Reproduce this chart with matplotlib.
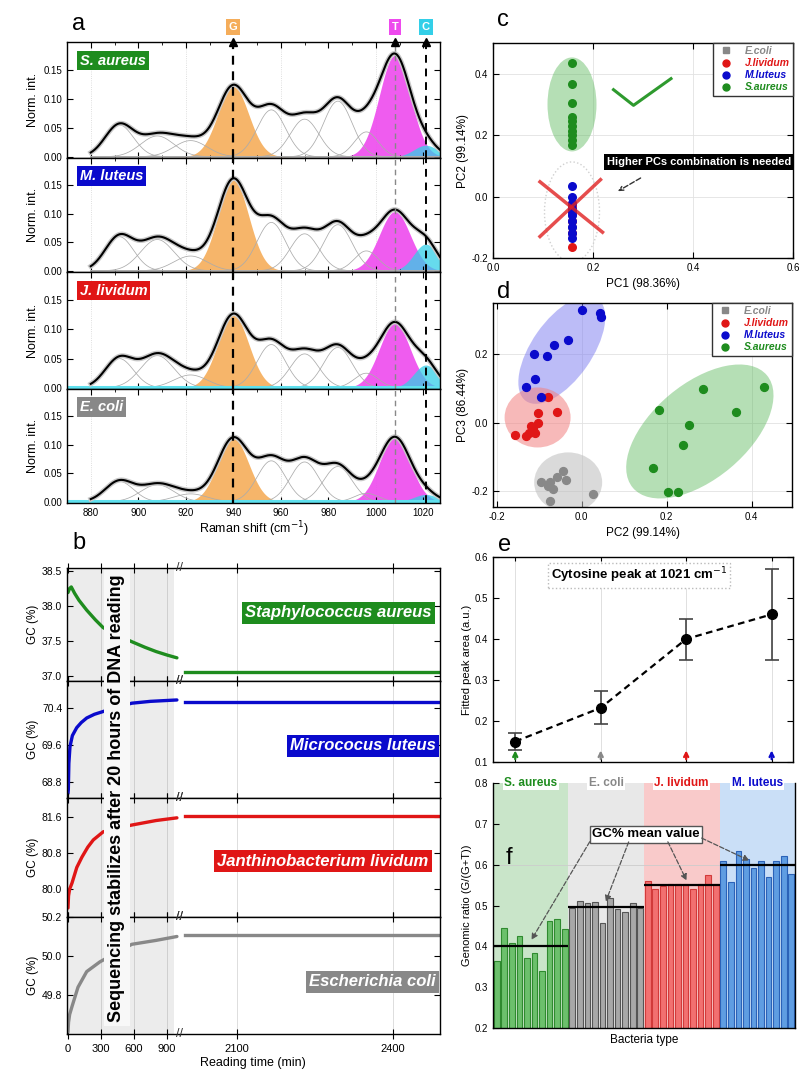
import numpy as np
import matplotlib.pyplot as plt
from matplotlib.patches import Ellipse
from matplotlib.lines import Line2D
from matplotlib.transforms import ScaledTranslation

plt.rcParams['font.family'] = ['Liberation Sans', 'DejaVu Sans']
plt.rcParams['font.size'] = 7.5
plt.rcParams['axes.linewidth'] = 1.0

W, H = 802, 1077
fig = plt.figure(figsize=(W / 100, H / 100), dpi=100)


def rect(l, t, r, b):
    # pixel box -> figure fraction
    return [l / W, 1 - b / H, (r - l) / W, (b - t) / H]


# colours per species
col_sa, col_ml, col_jl, col_ec = '#1e8c1e', '#0a0acc', '#e01616', '#888888'

# ---------------- a : gaussian fits of the raman spectra ----------------
spec_names = ['S. aureus', 'M. luteus', 'J. lividum', 'E. coli']
spec_colors = [col_sa, col_ml, col_jl, col_ec]
comp_centre = [892, 908, 922, 940, 956, 970, 984, 996, 1008, 1021]
comp_sigma = [6, 7, 7, 6.5, 6, 6, 6, 5, 6.5, 5]
h_sa = [0.055, 0.036, 0.028, 0.121, 0.081, 0.065, 0.096, 0.043, 0.175, 0.020]
h_ml = [0.060, 0.055, 0.026, 0.159, 0.085, 0.065, 0.081, 0.035, 0.104, 0.047]
h_jl = [0.050, 0.055, 0.022, 0.124, 0.074, 0.058, 0.069, 0.025, 0.110, 0.039]
h_ec = [0.036, 0.030, 0.014, 0.111, 0.072, 0.070, 0.062, 0.015, 0.113, 0.013]
cyan_baseline = [False, False, True, True]
base_names = ['G', 'T', 'C']
base_peaks = [940, 1008, 1021]
base_idx = [3, 8, 9]
base_colors = ['#f5ad5a', '#ee4aee', '#33cfe8']
base_alpha = [0.9, 0.9, 0.75]

a_rows = [(42, 158), (158, 272), (272, 389), (389, 503)]
wn = np.linspace(880, 1027, 500)
for i, heights in enumerate([h_sa, h_ml, h_jl, h_ec]):
    ax = fig.add_axes(rect(67, a_rows[i][0], 440, a_rows[i][1]))
    comps = [h * np.exp(-(wn - c) ** 2 / (2 * s ** 2))
             for h, c, s in zip(heights, comp_centre, comp_sigma)]
    total = np.sum(comps, axis=0)
    for k, cv in enumerate(comps):
        if k not in base_idx:
            ax.plot(wn, cv, color='#ababab', lw=0.55)
    for k, col, al in zip(base_idx, base_colors, base_alpha):
        ax.fill_between(wn, 0, comps[k], color=col, alpha=al, lw=0)
    if cyan_baseline[i]:
        ax.axhline(0.001, color='#5fe0ee', lw=2.2)
    ax.plot(wn, total, color='#c8c8c8', lw=3.5)
    ax.plot(wn, total, color='k', lw=1.5)
    ax.axvline(base_peaks[0], color='k', ls=(0, (4, 3)), lw=1.6)
    ax.axvline(base_peaks[1], color='#888888', ls=(0, (4, 3)), lw=1.0)
    ax.axvline(base_peaks[2], color='k', ls=(0, (4, 3)), lw=1.4)
    for g in [880, 920, 960, 1000]:
        ax.axvline(g, color='#d4d4d4', lw=0.6, ls=':', zorder=0)
    ax.set_xlim(870, 1027)
    ax.set_ylim(-0.002, 0.198)
    ax.set_xticks(np.arange(880, 1021, 20))
    ax.set_xticks(np.arange(870, 1027, 10), minor=True)
    ax.set_yticks([0.0, 0.05, 0.10, 0.15])
    ax.set_yticklabels(['0.00', '0.05', '0.10', '0.15'])
    ax.tick_params(direction='in', top=True, right=True, length=4, labelsize=7)
    ax.tick_params(which='minor', direction='in', top=True, length=2)
    ax.set_ylabel('Norm. int.', fontsize=9, labelpad=3)
    ax.text(0.035, 0.84, spec_names[i], transform=ax.transAxes, color='white',
            fontsize=10.5, weight='bold', style='italic', va='center',
            bbox=dict(facecolor=spec_colors[i], edgecolor='none', pad=2))
    if i == 0:
        ax.plot(base_peaks, [0.198] * 3, ls='none', marker='^', color='k',
                ms=6, clip_on=False)
        for nm, pk, col in zip(base_names, base_peaks, base_colors):
            ax.text(pk, 1.13, nm, transform=ax.get_xaxis_transform(), ha='center',
                    va='center', color='white', fontsize=8, weight='bold',
                    bbox=dict(facecolor=col, edgecolor='none', pad=2))
    if i < 3:
        ax.tick_params(labelbottom=False)
    else:
        ax.set_xlabel('Raman shift (cm$^{-1}$)', fontsize=9, labelpad=1)

# ---------------- b : GC content vs reading time ----------------
t_sa = [0, 15, 30, 60, 100, 170, 250, 320, 450, 580, 700, 800, 900, 990]
gc_sa = [38.19, 38.25, 38.27, 38.18, 38.08, 37.94, 37.80, 37.69, 37.58, 37.49,
         37.41, 37.35, 37.30, 37.26]
t_ml = [0, 3, 8, 18, 40, 79, 120, 170, 240, 306, 450, 580, 750, 990]
gc_ml = [68.55, 68.63, 69.20, 69.56, 69.80, 69.97, 70.08, 70.18, 70.26, 70.31,
         70.42, 70.50, 70.54, 70.57]
t_jl = [0, 5, 15, 36, 80, 127, 180, 230, 320, 450, 580, 800, 990]
gc_jl = [79.58, 79.85, 80.00, 80.13, 80.48, 80.71, 80.93, 81.09, 81.27, 81.35,
         81.42, 81.52, 81.58]
t_ec = [0, 5, 15, 36, 91, 170, 290, 450, 580, 800, 990]
gc_ec = [49.61, 49.66, 49.70, 49.74, 49.84, 49.92, 49.97, 50.02, 50.06, 50.08, 50.10]
t_late = [2000, 2490]
gc_late = [37.06, 70.53, 81.62, 50.11]

b_names = ['Staphylococcus aureus', 'Micrococus luteus',
           'Janthinobacterium lividum', 'Escherichia coli']
b_label_x = [245, 290, 217, 309]
b_label_y = [613, 746, 861, 982]
b_ylims = [(36.93, 38.54), (68.45, 70.98), (79.38, 82.02), (49.60, 50.20)]
b_yticks = [[37.0, 37.5, 38.0, 38.5], [68.8, 69.6, 70.4],
            [80.0, 80.8, 81.6], [49.8, 50.0, 50.2]]
b_rows = [(568, 681), (681, 798), (798, 917), (917, 1034)]
b_t = [t_sa, t_ml, t_jl, t_ec]
b_gc = [gc_sa, gc_ml, gc_jl, gc_ec]
brk = 179

for i in range(4):
    top, bot = b_rows[i]
    axl = fig.add_axes(rect(67, top, brk, bot))
    axr = fig.add_axes(rect(brk, top, 440, bot))
    axl.axvspan(-9, 960, color='#ececec', lw=0, zorder=0)
    for g in [300, 600, 900]:
        axl.axvline(g, color='#cfcfcf', lw=0.7, zorder=0)
    for g in [2100, 2400]:
        axr.axvline(g, color='#dddddd', lw=0.7, zorder=0)
    axl.plot(b_t[i], b_gc[i], color=spec_colors[i], lw=2.4,
             solid_capstyle='round')
    axr.plot(t_late, [gc_late[i]] * 2, color=spec_colors[i], lw=2.4)
    axl.set_xlim(-9, 1009)
    axr.set_xlim(1988, 2490)
    for ax in (axl, axr):
        ax.set_ylim(*b_ylims[i])
    axl.spines['right'].set_visible(False)
    axr.spines['left'].set_visible(False)
    axl.set_xticks([0, 300, 600, 900])
    axr.set_xticks([2100, 2400])
    axl.set_yticks(b_yticks[i])
    axl.set_yticklabels(['%.1f' % v for v in b_yticks[i]])
    axr.set_yticks(b_yticks[i])
    axr.tick_params(axis='y', left=False, right=True, labelleft=False,
                    direction='in', length=4)
    axl.tick_params(axis='y', direction='in', length=4, labelsize=7.5)
    for ax in (axl, axr):
        ax.tick_params(axis='x', direction='inout', top=True, length=7,
                       labelsize=8)
        if i < 3:
            ax.tick_params(axis='x', labelbottom=False)
    axl.set_ylabel('GC (%)', fontsize=8.5, labelpad=2)
    col = spec_colors[i]
    axr.text((b_label_x[i] - brk) / (440 - brk), (bot - b_label_y[i]) / (bot - top),
             b_names[i], transform=axr.transAxes, color='white', fontsize=12,
             weight='bold', style='italic', va='center', ha='left', clip_on=True,
             bbox=dict(facecolor=col, edgecolor='none', pad=2.5))
    for yy in (top, bot):
        fig.text(brk / W, 1 - yy / H, '//', fontsize=9, ha='center', va='center',
                 color='#333333')
    if i == 3:
        fig.text(253 / W, 1 - 1066 / H, 'Reading time (min)', fontsize=9, ha='center')

fig.text(117 / W, 1 - 798 / H, 'Sequencing stabilizes after 20 hours of DNA reading',
         rotation=90, ha='center', va='center', fontsize=13, weight='bold',
         bbox=dict(facecolor='#f8f8f8', edgecolor='none', pad=3))

# ---------------- c / d : PCA scatter ----------------
pca_labels = ['E.coli', 'J.lividum', 'M.luteus', 'S.aureus']
pca_colors = [col_ec, col_jl, col_ml, col_sa]
pca_markers = ['s', 'o', 'o', 'o']

c_pc1 = 0.158
c_ec_pc2 = [-0.10, -0.06]
c_jl_pc2 = [-0.165, -0.12, -0.08, -0.03]
c_ml_pc2 = [0.035, 0.0, -0.02, -0.04, -0.06, -0.08, -0.10, -0.12, -0.135, -0.05]
c_sa_pc2 = [0.435, 0.365, 0.306, 0.26, 0.245, 0.23, 0.215, 0.20, 0.185, 0.168]

d_ec = ([-0.097, -0.075, -0.059, -0.045, -0.036, -0.068, -0.075, 0.027, -0.080],
        [-0.175, -0.175, -0.158, -0.143, -0.167, -0.193, -0.228, -0.210, -0.185])
d_jl = ([-0.079, -0.059, -0.102, -0.102, -0.115, -0.124, -0.131, -0.158, -0.109, -0.120],
        [0.076, 0.032, 0.029, 0.0, -0.015, -0.030, -0.040, -0.035, -0.029, -0.010])
d_ml = ([0.0, 0.043, 0.045, -0.113, -0.081, -0.066, -0.032, -0.109, -0.131, -0.097],
        [0.330, 0.320, 0.310, 0.200, 0.196, 0.228, 0.243, 0.128, 0.105, 0.076])
d_sa = ([0.181, 0.362, 0.285, 0.428, 0.253, 0.238, 0.167, 0.204, 0.226],
        [0.038, 0.032, 0.099, 0.105, -0.006, -0.067, -0.132, -0.204, -0.204])


def cloud(ax, centre, w_in, h_in, ang, fc, alpha, **kw):
    tr = fig.dpi_scale_trans + ScaledTranslation(centre[0], centre[1], ax.transData)
    e = Ellipse((0, 0), w_in, h_in, angle=ang, transform=tr, facecolor=fc,
                alpha=alpha, zorder=1, **kw)
    ax.add_patch(e)


def pca_legend(ax):
    handles = [Line2D([], [], ls='none', marker=m, color=c, ms=5)
               for c, m in zip(pca_colors, pca_markers)]
    leg = ax.legend(handles, pca_labels, loc='upper right', fontsize=7.5,
                    fancybox=False, edgecolor='#333333', framealpha=1,
                    borderpad=0.3, labelspacing=0.2, handletextpad=0.8,
                    borderaxespad=0.0)
    for txt, c in zip(leg.get_texts(), pca_colors):
        txt.set_color(c)
        txt.set_style('italic')
        txt.set_weight('bold')


axc = fig.add_axes(rect(493, 43, 793, 258))
axc.grid(color='#e2e2e2', lw=0.6)
axc.set_axisbelow(True)
cloud(axc, (c_pc1, 0.30), 0.49, 0.94, 0, '#5cb85c', 0.45)
cloud(axc, (c_pc1, -0.05), 0.55, 1.0, 0, 'none', 1, edgecolor='#d0d0d0', ls=':')
for vals, col in zip([c_ec_pc2, c_jl_pc2, c_ml_pc2, c_sa_pc2], pca_colors):
    axc.scatter([c_pc1] * len(vals), vals, s=30, color=col, zorder=3)
axc.plot([0.094, 0.219], [0.048, -0.116], color='#e02020', lw=2.5, alpha=0.8, zorder=4)
axc.plot([0.215, 0.094], [0.055, -0.130], color='#e02020', lw=2.5, alpha=0.8, zorder=4)
axc.plot([0.241, 0.281, 0.356], [0.348, 0.297, 0.384], color='#2e9a2e', lw=2.2)
axc.text(0.412, 0.113, 'Higher PCs combination is needed', color='white',
         fontsize=8, weight='bold', ha='center', va='center', zorder=5,
         bbox=dict(facecolor='black', edgecolor='none', pad=2))
axc.annotate('', xy=(0.245, 0.013), xytext=(0.30, 0.065),
             arrowprops=dict(arrowstyle='->', color='#333333', ls='--', lw=1))
axc.set_xlim(0, 0.6)
axc.set_ylim(-0.2, 0.5)
axc.set_xticks([0.0, 0.2, 0.4, 0.6])
axc.set_yticks([-0.2, 0.0, 0.2, 0.4])
axc.set_xticklabels(['0.0', '0.2', '0.4', '0.6'])
axc.set_yticklabels(['-0.2', '0.0', '0.2', '0.4'])
axc.tick_params(direction='in', top=True, right=True, length=4, labelsize=7)
axc.set_xlabel('PC1 (98.36%)', fontsize=8.5)
axc.set_ylabel('PC2 (99.14%)', fontsize=8.5, labelpad=2)
pca_legend(axc)

axd = fig.add_axes(rect(493, 303, 792, 507))
axd.grid(color='#e2e2e2', lw=0.6)
axd.set_axisbelow(True)
cloud(axd, (-0.047, 0.213), 1.25, 0.60, 55, '#7b7bf0', 0.5)
cloud(axd, (-0.104, 0.015), 0.66, 0.60, 0, '#f28080', 0.55)
cloud(axd, (-0.032, -0.175), 0.68, 0.60, 0, '#bdbdbd', 0.55)
cloud(axd, (0.278, -0.026), 1.75, 0.95, 40, '#5cb85c', 0.45)
for (xs, ys), col in zip([d_ec, d_jl, d_ml, d_sa], pca_colors):
    axd.scatter(xs, ys, s=32, color=col, zorder=3)
axd.set_xlim(-0.209, 0.495)
axd.set_ylim(-0.247, 0.35)
axd.set_xticks([-0.2, 0.0, 0.2, 0.4])
axd.set_yticks([-0.2, 0.0, 0.2])
axd.set_xticklabels(['-0.2', '0.0', '0.2', '0.4'])
axd.set_yticklabels(['-0.2', '0.0', '0.2'])
axd.tick_params(direction='in', top=True, right=True, length=4, labelsize=7)
axd.set_xlabel('PC2 (99.14%)', fontsize=8.5)
axd.set_ylabel('PC3 (86.44%)', fontsize=8.5, labelpad=2)
pca_legend(axd)

# ---------------- e : cytosine peak area ----------------
e_order = ['S. aureus', 'E. coli', 'J. lividum', 'M. luteus']
e_colors = [col_sa, col_ec, col_jl, col_ml]
e_pos = [1, 2, 3, 4]
e_area = [0.150, 0.232, 0.400, 0.460]
e_err = [0.02, 0.04, 0.05, 0.11]

axe = fig.add_axes(rect(493, 557, 793, 762))
for p in e_pos:
    axe.axvline(p, color='#e0e0e0', lw=0.7, zorder=0)
axe.plot(e_pos, e_area, color='k', ls=(0, (3, 2)), lw=1.6)
axe.errorbar(e_pos, e_area, yerr=e_err, fmt='o', color='k', ms=7,
             ecolor='#444444', elinewidth=1.2, capsize=5, capthick=1.2)
for p, c in zip(e_pos, e_colors):
    axe.annotate('', xy=(p, 0.135), xytext=(p, 0.1),
                 arrowprops=dict(arrowstyle='->', color=c, lw=1.6))
axe.text(2.45, 0.555, 'Cytosine peak at 1021 cm$^{-1}$', ha='center', va='center',
         fontsize=9.5, weight='bold',
         bbox=dict(facecolor='white', edgecolor='#bbbbbb', ls=':', pad=2))
axe.set_xlim(0.74, 4.25)
axe.set_ylim(0.1, 0.6)
axe.set_xticks(e_pos)
axe.set_yticks([0.1, 0.2, 0.3, 0.4, 0.5, 0.6])
axe.set_yticklabels(['0.1', '0.2', '0.3', '0.4', '0.5', '0.6'])
axe.tick_params(axis='x', labelbottom=False, direction='in', top=True, length=3)
axe.tick_params(axis='y', direction='in', right=True, length=4, labelsize=7)
axe.set_ylabel('Fitted peak area (a.u.)', fontsize=8, labelpad=2)

# ---------------- f : genomic ratio bars ----------------
f_green = [0.364, 0.444, 0.409, 0.425, 0.371, 0.384, 0.339, 0.462, 0.468, 0.443]
f_grey = [0.495, 0.511, 0.507, 0.509, 0.458, 0.518, 0.491, 0.483, 0.506, 0.495]
f_red = [0.560, 0.540, 0.548, 0.552, 0.552, 0.552, 0.540, 0.552, 0.575, 0.552]
f_blue = [0.610, 0.557, 0.634, 0.614, 0.593, 0.610, 0.569, 0.610, 0.622, 0.577]
gc_mean = [0.400, 0.497, 0.550, 0.600]
f_bg = ['#c9e5c9', '#e8e8e8', '#f9caca', '#cadff7']
f_face = ['#6cc06c', '#a8a8a8', '#f27070', '#5f9de2']
f_edge = ['#2f8a2f', '#555555', '#d23a3a', '#2b62b8']

axf = fig.add_axes(rect(493, 783, 795, 1028))
for g, vals in enumerate([f_green, f_grey, f_red, f_blue]):
    x0 = g * 10
    axf.axvspan(x0 - 0.5, x0 + 9.5, color=f_bg[g], lw=0, zorder=0)
    axf.bar(np.arange(x0, x0 + 10), vals, width=0.75, color=f_face[g],
            edgecolor=f_edge[g], lw=0.8, zorder=2)
    axf.hlines(gc_mean[g], x0 - 0.5, x0 + 9.5, color='k', lw=1.6, zorder=3)
    axf.text(x0 + 4.5, 0.8, e_order[g], ha='center', va='center', color=e_colors[g],
             fontsize=8.5, weight='bold', zorder=5,
             bbox=dict(facecolor='white', edgecolor='none', pad=1))
axf.axhline(0.6, color='#cccccc', lw=0.6, zorder=1)
axf.text(19.8, 0.674, 'GC% mean value', ha='center', va='center', fontsize=9.5,
         weight='bold', zorder=6,
         bbox=dict(facecolor='white', edgecolor='#555555', pad=1.5))
for sx, sy, tx, ty in [(12.5, 0.662, 4.4, 0.41), (17.6, 0.662, 14.3, 0.503),
                       (22.5, 0.662, 25.3, 0.555), (26.8, 0.668, 33.8, 0.607)]:
    axf.annotate('', xy=(tx, ty), xytext=(sx, sy), zorder=6,
                 arrowprops=dict(arrowstyle='-|>', color='#555555', ls='--',
                                 lw=0.9, mutation_scale=9))
axf.set_xlim(-0.5, 39.5)
axf.set_ylim(0.2, 0.8)
axf.set_xticks([])
axf.set_yticks([0.2, 0.3, 0.4, 0.5, 0.6, 0.7, 0.8])
axf.set_yticklabels(['0.2', '0.3', '0.4', '0.5', '0.6', '0.7', '0.8'])
axf.tick_params(axis='y', direction='in', length=4, labelsize=7)
axf.spines['top'].set_visible(False)
axf.set_xlabel('Bacteria type', fontsize=8.5)
axf.set_ylabel('Genomic ratio (G/(G+T))', fontsize=8, labelpad=2)

# panel letters
for letter, px, py in [('a', 72, 24), ('b', 72, 543), ('c', 497, 20),
                       ('d', 497, 292), ('e', 498, 545), ('f', 506, 858)]:
    fig.text(px / W, 1 - py / H, letter, fontsize=17, ha='left', va='center')

fig.savefig('out.png', dpi=100)
